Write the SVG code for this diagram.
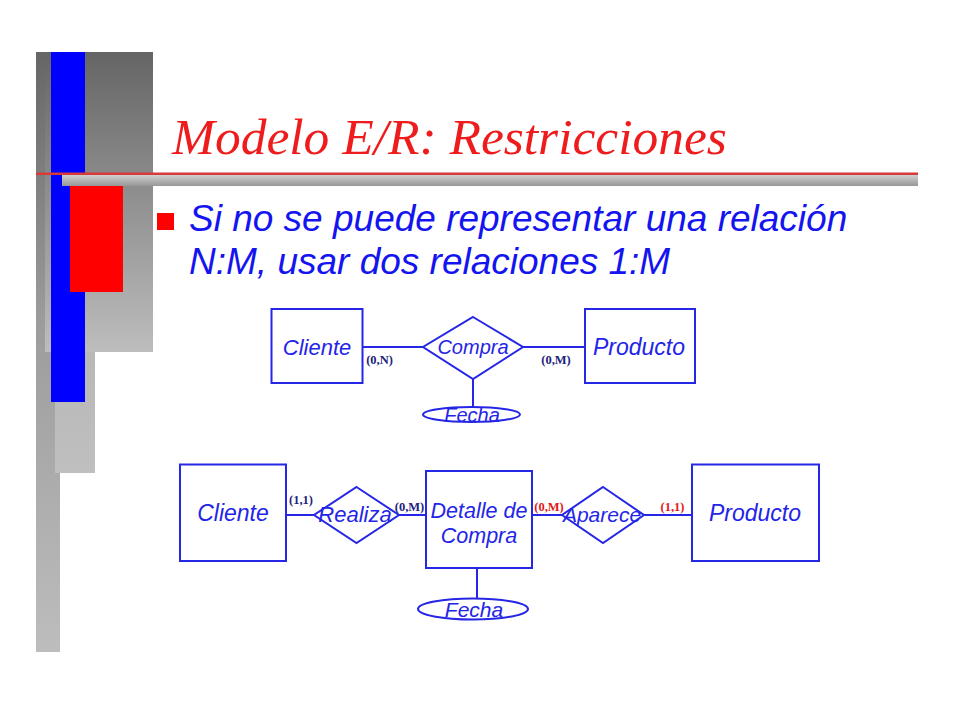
<svg xmlns="http://www.w3.org/2000/svg" width="960" height="720" viewBox="0 0 960 720">
<defs>
<linearGradient id="gTall" x1="0" y1="0" x2="0" y2="1">
<stop offset="0" stop-color="#666666"/>
<stop offset="0.45" stop-color="#9c9c9c"/>
<stop offset="1" stop-color="#bdbdbd"/>
</linearGradient>
<linearGradient id="gBig" x1="0" y1="0" x2="0" y2="1">
<stop offset="0" stop-color="#656565"/>
<stop offset="1" stop-color="#bdbdbd"/>
</linearGradient>
<linearGradient id="gBox" x1="0" y1="0" x2="0" y2="1">
<stop offset="0" stop-color="#b8b8b8"/>
<stop offset="1" stop-color="#bfbfbf"/>
</linearGradient>
<linearGradient id="gBar" x1="0" y1="0" x2="0" y2="1">
<stop offset="0" stop-color="#d0d0d0"/>
<stop offset="1" stop-color="#979797"/>
</linearGradient>
</defs>
<style>
.ent{fill:#ffffff;stroke:#2626e6;stroke-width:2}
.rel{fill:#ffffff;stroke:#2626e6;stroke-width:2}
.att{fill:#ffffff;stroke:#2626e6;stroke-width:2}
.lnk{stroke:#2626e6;stroke-width:2;fill:none}
.lbl{font-family:"Liberation Sans",Arial,sans-serif;font-style:italic;fill:#2424e8;text-anchor:middle}
.card{font-family:"Liberation Serif","Times New Roman",serif;font-weight:bold;font-size:12.5px;fill:#22227a;text-anchor:middle}
.cardr{font-family:"Liberation Serif","Times New Roman",serif;font-weight:bold;font-size:12.5px;fill:#e21818;text-anchor:middle}
.title{font-family:"Liberation Serif","Times New Roman",serif;font-style:italic;font-size:51.5px;fill:#ee1c1c}
.body{font-family:"Liberation Sans",Arial,sans-serif;font-style:italic;font-size:37px;fill:#1414f0}
</style>
<rect width="960" height="720" fill="#ffffff"/>
<g id="decoration">
<rect x="36" y="52" width="24" height="600" fill="url(#gTall)"/>
<rect x="45" y="52" width="108" height="300" fill="url(#gBig)"/>
<rect x="55" y="352" width="40" height="121" fill="url(#gBox)"/>
<rect x="51" y="52" width="34" height="350" fill="#0000ff"/>
<rect x="62" y="175" width="856" height="11" fill="url(#gBar)"/>
<rect x="70" y="186" width="53" height="106" fill="#ff0000"/>
<rect x="36" y="172.5" width="882" height="2.5" fill="#d83a3a"/>
</g>
<g id="title">
<text class="title" x="172" y="154">Modelo E/R: Restricciones</text>
</g>
<g id="bullet">
<rect x="157" y="213" width="17" height="17" fill="#ff0000"/>
<text class="body" x="189" y="231">Si no se puede representar una relación</text>
<text class="body" x="189" y="274">N:M, usar dos relaciones 1:M</text>
</g>
<g id="connectors">
<line class="lnk" x1="362" y1="347" x2="423" y2="347"/>
<line class="lnk" x1="523" y1="347" x2="585" y2="347"/>
<line class="lnk" x1="473" y1="379" x2="473" y2="407"/>
<line class="lnk" x1="286" y1="515" x2="314" y2="515"/>
<line class="lnk" x1="399" y1="515" x2="426" y2="515"/>
<line class="lnk" x1="532" y1="515" x2="562" y2="515"/>
<line class="lnk" x1="644" y1="515" x2="692" y2="515"/>
<line class="lnk" x1="477" y1="562" x2="477" y2="598.5"/>
</g>
<g id="d1-cliente">
<rect class="ent" x="271.5" y="309" width="91" height="74"/>
<text class="lbl" x="317" y="355" font-size="22">Cliente</text>
</g>
<g id="d1-compra">
<polygon class="rel" points="473,317 523,347 473,379 423,347"/>
<text class="lbl" x="473" y="354" font-size="20">Compra</text>
</g>
<g id="d1-producto">
<rect class="ent" x="585" y="309" width="110" height="74"/>
<text class="lbl" x="639" y="355" font-size="23">Producto</text>
</g>
<g id="d1-fecha">
<ellipse class="att" cx="471.5" cy="414.5" rx="48.5" ry="7.5"/>
<text class="lbl" x="472" y="422" font-size="20">Fecha</text>
</g>
<g id="d1-cards">
<text class="card" x="379.5" y="364">(0,N)</text>
<text class="card" x="556" y="364">(0,M)</text>
</g>
<g id="d2-cliente">
<rect class="ent" x="180" y="464.5" width="106" height="96.5"/>
<text class="lbl" x="233" y="521" font-size="23">Cliente</text>
</g>
<g id="d2-realiza">
<polygon class="rel" points="356.5,487 399,515 356.5,543 314,515"/>
<text class="lbl" x="355" y="522" font-size="22">Realiza</text>
</g>
<g id="d2-detalle">
<rect class="ent" x="426" y="471" width="106" height="97"/>
<text class="lbl" x="479" y="518" font-size="21.5">Detalle de</text>
<text class="lbl" x="479" y="543" font-size="21.5">Compra</text>
</g>
<g id="d2-aparece">
<polygon class="rel" points="603,487 644,515 603,543 562,515"/>
<text class="lbl" x="602" y="522" font-size="21">Aparece</text>
</g>
<g id="d2-producto">
<rect class="ent" x="692" y="464.5" width="127" height="96.5"/>
<text class="lbl" x="755" y="521" font-size="23">Producto</text>
</g>
<g id="d2-fecha">
<ellipse class="att" cx="473" cy="609" rx="55" ry="10.5"/>
<text class="lbl" x="474" y="616.5" font-size="21">Fecha</text>
</g>
<g id="d2-cards">
<text class="card" x="301" y="504">(1,1)</text>
<text class="card" x="409.5" y="511">(0,M)</text>
<text class="cardr" x="549" y="511">(0,M)</text>
<text class="cardr" x="672.5" y="511">(1,1)</text>
</g>
</svg>
